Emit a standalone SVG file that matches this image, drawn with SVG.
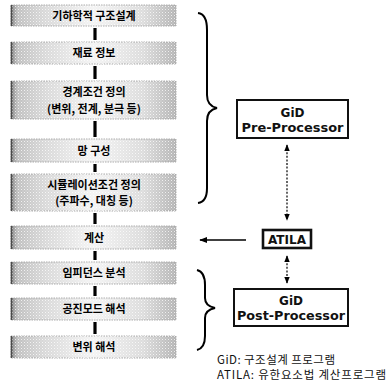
<svg xmlns="http://www.w3.org/2000/svg" width="390" height="384" viewBox="0 0 390 384">
<defs>
<linearGradient id="g" x1="0" y1="0" x2="1" y2="0">
<stop offset="0" stop-color="#808080"/>
<stop offset="0.04" stop-color="#c0c0c0"/>
<stop offset="0.2" stop-color="#d8d8d8"/>
<stop offset="0.5" stop-color="#f4f4f4"/>
<stop offset="0.8" stop-color="#dcdcdc"/>
<stop offset="1" stop-color="#b4b4b4"/>
</linearGradient>
<pattern id="dots" width="3" height="3" patternUnits="userSpaceOnUse">
<rect x="0" y="0" width="1" height="1" fill="#ffffff" opacity="0.75"/>
<rect x="1.5" y="1.5" width="1" height="1" fill="#ffffff" opacity="0.4"/>
</pattern>
<marker id="ah" viewBox="0 0 10 10" refX="9" refY="5" markerWidth="6" markerHeight="6" orient="auto-start-reverse">
<path d="M0,1 L10,5 L0,9 z" fill="#000"/>
</marker>
</defs>
<style>
.box{fill:url(#g);stroke:#999;stroke-width:0.8;stroke-dasharray:1.5,1}
.tex{fill:url(#dots)}
.edge{stroke:#4a4a4a;stroke-width:1.6}
.kt{font-family:"Noto Sans CJK KR","Noto Sans",sans-serif;font-size:11px;font-weight:bold;fill:#000;text-anchor:middle}
.bar{stroke:#000;stroke-width:3.2}
.pbox{fill:#fff;stroke:#111;stroke-width:2}
.pt{font-family:"DejaVu Sans",sans-serif;font-size:12px;font-weight:bold;fill:#111;text-anchor:middle}
.brace{fill:none;stroke:#000;stroke-width:2}
.dot{stroke:#000;stroke-width:1.2;stroke-dasharray:2,1.6;fill:none}
.leg{font-family:"Noto Sans CJK KR","DejaVu Sans Condensed",sans-serif;font-size:11.5px;fill:#111}
</style>

<g id="n1"><rect class="box" x="11" y="5" width="165" height="21"/><rect class="tex" x="11" y="5" width="165" height="21"/><line class="edge" x1="11.5" y1="5" x2="11.5" y2="26"/><text class="kt" x="94" y="19.5">기하학적 구조설계</text></g>
<g id="n2"><rect class="box" x="11" y="42" width="165" height="22"/><rect class="tex" x="11" y="42" width="165" height="22"/><line class="edge" x1="11.5" y1="42" x2="11.5" y2="64"/><text class="kt" x="94" y="57">재료 정보</text></g>
<g id="n3"><rect class="box" x="11" y="81" width="165" height="38"/><rect class="tex" x="11" y="81" width="165" height="38"/><line class="edge" x1="11.5" y1="81" x2="11.5" y2="119"/><text class="kt" x="94" y="96">경계조건 정의</text><text class="kt" x="94" y="113">(변위, 전계, 분극 등)</text></g>
<g id="n4"><rect class="box" x="11" y="139" width="165" height="23"/><rect class="tex" x="11" y="139" width="165" height="23"/><line class="edge" x1="11.5" y1="139" x2="11.5" y2="162"/><text class="kt" x="94" y="154.5">망 구성</text></g>
<g id="n5"><rect class="box" x="11" y="174" width="165" height="37"/><rect class="tex" x="11" y="174" width="165" height="37"/><line class="edge" x1="11.5" y1="174" x2="11.5" y2="211"/><text class="kt" x="94" y="188.5">시뮬레이션조건 정의</text><text class="kt" x="94" y="205">(주파수, 대칭 등)</text></g>
<g id="n6"><rect class="box" x="11" y="226" width="165" height="23"/><rect class="tex" x="11" y="226" width="165" height="23"/><line class="edge" x1="11.5" y1="226" x2="11.5" y2="249"/><text class="kt" x="94" y="241.5">계산</text></g>
<g id="n7"><rect class="box" x="11" y="262" width="165" height="22"/><rect class="tex" x="11" y="262" width="165" height="22"/><line class="edge" x1="11.5" y1="262" x2="11.5" y2="284"/><text class="kt" x="94" y="277">임피던스 분석</text></g>
<g id="n8"><rect class="box" x="11" y="298" width="165" height="22"/><rect class="tex" x="11" y="298" width="165" height="22"/><line class="edge" x1="11.5" y1="298" x2="11.5" y2="320"/><text class="kt" x="94" y="313">공진모드 해석</text></g>
<g id="n9"><rect class="box" x="11" y="336" width="165" height="22"/><rect class="tex" x="11" y="336" width="165" height="22"/><line class="edge" x1="11.5" y1="336" x2="11.5" y2="358"/><text class="kt" x="94" y="351">변위 해석</text></g>

<g id="pre"><rect class="pbox" x="237" y="100" width="111" height="38"/><text class="pt" x="292.5" y="117">GiD</text><text class="pt" x="292.5" y="132" textLength="102" lengthAdjust="spacingAndGlyphs">Pre-Processor</text></g>
<g id="atila"><rect class="pbox" x="263" y="230" width="48" height="18" style="stroke-width:2.6"/><text class="pt" x="287" y="243.5" textLength="38" lengthAdjust="spacingAndGlyphs">ATILA</text></g>
<g id="post"><rect class="pbox" x="234" y="289" width="114" height="37"/><text class="pt" x="291" y="305">GiD</text><text class="pt" x="291" y="320" textLength="108" lengthAdjust="spacingAndGlyphs">Post-Processor</text></g>

<g id="connectors">
<line class="bar" x1="95" y1="28" x2="95" y2="40"/>
<line class="bar" x1="95" y1="66" x2="95" y2="79"/>
<line class="bar" x1="95" y1="121" x2="95" y2="137"/>
<line class="bar" x1="95" y1="164" x2="95" y2="172"/>
<line class="bar" x1="95" y1="213" x2="95" y2="224"/>
<line class="bar" x1="95" y1="251" x2="95" y2="260"/>
<line class="bar" x1="95" y1="286" x2="95" y2="296"/>
<line class="bar" x1="95" y1="322" x2="95" y2="334"/>
<path class="brace" d="M198,13 Q207,14 207,30 L207,95 Q207,106 217,108 Q207,110 207,121 L207,188 Q207,202 198,203"/>
<path class="brace" d="M197,270 Q205,272 205,285 L205,298 Q205,306 215,308 Q205,310 205,318 L205,336 Q205,348 197,350"/>
<line class="dot" x1="287" y1="145" x2="287" y2="220" marker-start="url(#ah)" marker-end="url(#ah)"/>
<line class="dot" x1="287" y1="256" x2="287" y2="283" marker-start="url(#ah)" marker-end="url(#ah)"/>
<line x1="246" y1="240" x2="200" y2="240" stroke="#000" stroke-width="1.3" marker-end="url(#ah)"/>
</g>

<g id="legend">
<text class="leg" x="217" y="364" textLength="118" lengthAdjust="spacing">GiD: 구조설계 프로그램</text>
<text class="leg" x="217" y="379" textLength="169" lengthAdjust="spacing">ATILA: 유한요소법 계산프로그램</text>
</g>
</svg>
